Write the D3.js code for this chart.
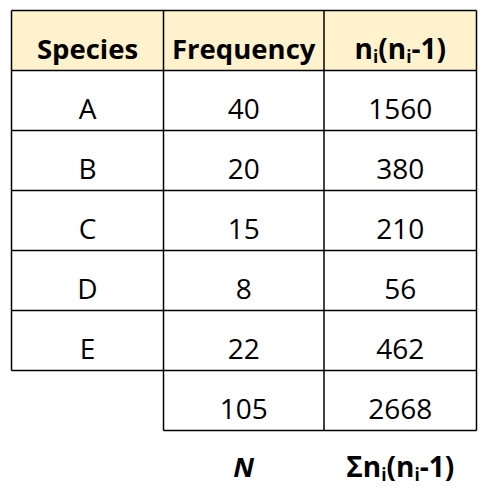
<!DOCTYPE html>
<html><head><meta charset="utf-8">
<script src="https://cdn.jsdelivr.net/npm/d3@7"></script>
<style>body{margin:0;background:#fff}</style>
</head><body>
<div id="chart"></div>
<script>
const species=["A","B","C","D","E"];
const frequency=[40,20,15,8,22];
const nn1=[1560,380,210,56,462];
const totalN=105, totalSum=2668;

const svg=d3.select("#chart").append("svg").attr("width",486).attr("height",495);
const colEdges=[11.5,163.5,324,476.5];
const x=i=>(colEdges[i]+colEdges[i+1])/2;
const y=d3.scaleLinear().domain([0,1]).range([10.5,70.5]); // row index -> top
const font="'Open Sans', sans-serif", fs=28;

// header background
svg.append("rect").attr("x",colEdges[0]).attr("y",y(0)).attr("width",colEdges[3]-colEdges[0]).attr("height",60).attr("fill","#FFF2CC");

function cellText(ci,ri,txt,bold){
  return svg.append("text").attr("x",x(ci)).attr("y",y(ri)+48).attr("text-anchor","middle")
    .attr("font-family",font).attr("font-size",bold?fs-0.5:fs).attr("font-weight",bold?"bold":"normal").attr("fill","#000").text(txt);
}
cellText(0,0,"Species",true);
cellText(1,0,"Frequency",true);
function nExpr(t,prefix){
  t.text(null);
  const parts=[[prefix+"n",0],["i",1],["(n",0],["i",1],["-1)",0]];
  parts.forEach(([s,isSub])=>{
    t.append("tspan").text(s).attr("font-size",isSub?fs*0.62:fs).attr("baseline-shift",isSub?"-22%":null);
  });
}
nExpr(cellText(2,0,"",true),"");

species.forEach((s,i)=>{
  cellText(0,i+1,s);
  cellText(1,i+1,frequency[i]);
  cellText(2,i+1,nn1[i]);
});
cellText(1,6,totalN);
cellText(2,6,totalSum);
cellText(1,7,"N",true).attr("font-style","italic").attr("y",477);
nExpr(cellText(2,7,"",true).attr("y",477),"Σ");

// grid lines
const g=svg.append("g").attr("stroke","#000").attr("stroke-width",1.5);
for(let r=0;r<=6;r++) g.append("line").attr("x1",colEdges[0]).attr("x2",colEdges[3]).attr("y1",y(r)).attr("y2",y(r));
g.append("line").attr("x1",colEdges[1]).attr("x2",colEdges[3]).attr("y1",y(7)).attr("y2",y(7));
g.append("line").attr("x1",colEdges[0]).attr("x2",colEdges[0]).attr("y1",y(0)).attr("y2",y(6));
[1,2,3].forEach(c=>g.append("line").attr("x1",colEdges[c]).attr("x2",colEdges[c]).attr("y1",y(0)).attr("y2",y(7)));
</script>
</body></html>
